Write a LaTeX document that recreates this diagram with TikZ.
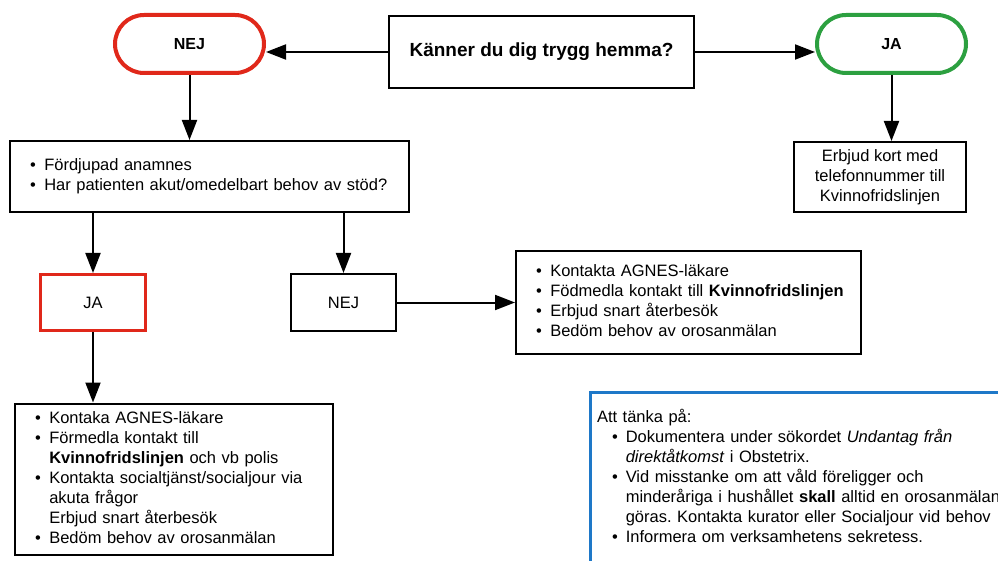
\documentclass[tikz,border=0pt]{standalone}
\usepackage{fontspec}
\setmainfont{Liberation Sans}
\usetikzlibrary{arrows.meta}

% lista med punkter
\newcommand{\punktlista}[1]{\begin{tabular}{@{}l@{\hspace{8.5pt}}l@{}}#1\end{tabular}}
\frenchspacing

\begin{document}
\begin{tikzpicture}[x=1pt,y=-1pt,
    every node/.style={font=\fontsize{16.5}{20}\selectfont},
    pill/.style={draw,line width=4pt,rectangle,rounded corners=29pt,minimum width=149pt,minimum height=58pt,inner sep=0pt,font=\fontsize{16}{19}\selectfont\bfseries},
    ruta/.style={draw,line width=2pt,rectangle,inner sep=0pt,align=center},
    lista/.style={ruta,align=left,inner xsep=20pt},
    pil/.style={line width=2pt,-{Triangle[length=20pt,width=15pt]}}]
        % farger
        \definecolor{rod}{RGB}{224,40,26}
        \definecolor{gron}{RGB}{44,160,64}
        \definecolor{bla}{RGB}{30,120,200}

        \clip (0,0) rectangle (998,561);

        % fraga och svar
        \node[ruta,minimum width=305pt,minimum height=72pt,font=\fontsize{19}{22}\selectfont\bfseries] (fraga) at (541.5,52) {Känner du dig trygg hemma?};
        \node[pill,draw=rod] (nej1) at (189.5,44) {NEJ};
        \node[pill,draw=gron] (ja1) at (891.5,44) {JA};

        % rutor
        \node[lista,minimum width=399pt,minimum height=71pt,text width=359pt] (fordj) at (209.5,176.5)
            {\punktlista{\textbullet & Fördjupad anamnes\\
                         \textbullet & Har patienten akut/omedelbart behov av stöd?}};
        \node[ruta,minimum width=172pt,minimum height=70pt] (erbjud) at (880,177)
            {Erbjud kort med\\telefonnummer till\\Kvinnofridslinjen};
        \node[ruta,draw=rod,line width=3pt,minimum width=105pt,minimum height=56pt] (ja2) at (93,302.5) {JA};
        \node[ruta,minimum width=105pt,minimum height=57pt] (nej2) at (343.5,302.5) {NEJ};
        \node[lista,minimum width=345pt,minimum height=103pt,text width=305pt] (atg2) at (688.5,302.5)
            {\punktlista{\textbullet & Kontakta AGNES-läkare\\
                         \textbullet & Födmedla kontakt till \textbf{Kvinnofridslinjen}\\
                         \textbullet & Erbjud snart återbesök\\
                         \textbullet & Bedöm behov av orosanmälan}};
        \node[lista,minimum width=318pt,minimum height=151pt,text width=278pt] (atg1) at (174,479)
            {\punktlista{\textbullet & Kontaka AGNES-läkare\\
                         \textbullet & Förmedla kontakt till\\
                                     & \textbf{Kvinnofridslinjen} och vb polis\\
                         \textbullet & Kontakta socialtjänst/socialjour via\\
                                     & akuta frågor\\
                                     & Erbjud snart återbesök\\
                         \textbullet & Bedöm behov av orosanmälan}};
        \node[ruta,draw=bla,line width=3pt,align=left,inner xsep=7pt,minimum width=430pt,minimum height=172pt,text width=416pt] (tanka) at (805,478)
            {\begin{tabular}{@{}l@{\hspace{8pt}}l@{}}
                \multicolumn{2}{@{}l@{}}{Att tänka på:}\\
                \hspace{15pt}\textbullet & Dokumentera under sökordet \textit{Undantag från}\\
                                         & \textit{direktåtkomst} i Obstetrix.\\
                \hspace{15pt}\textbullet & Vid misstanke om att våld föreligger och\\
                                         & minderåriga i hushållet \textbf{skall} alltid en orosanmälan\\
                                         & göras. Kontakta kurator eller Socialjour vid behov\\
                \hspace{15pt}\textbullet & Informera om verksamhetens sekretess.
             \end{tabular}};

        % pilar
        \draw[pil] (fraga.west) -- (nej1.east |- fraga.west);
        \draw[pil] (fraga.east) -- (ja1.west |- fraga.east);
        \draw[pil] (nej1.south) -- (nej1.south |- fordj.north);
        \draw[pil] (ja1.south) -- (ja1.south |- erbjud.north);
        \draw[pil] (ja2.north |- fordj.south) -- (ja2.north);
        \draw[pil] (nej2.north |- fordj.south) -- (nej2.north);
        \draw[pil] (nej2.east) -- (atg2.west);
        \draw[pil] (ja2.south) -- (ja2.south |- atg1.north);
    \end{tikzpicture}
\end{document}
